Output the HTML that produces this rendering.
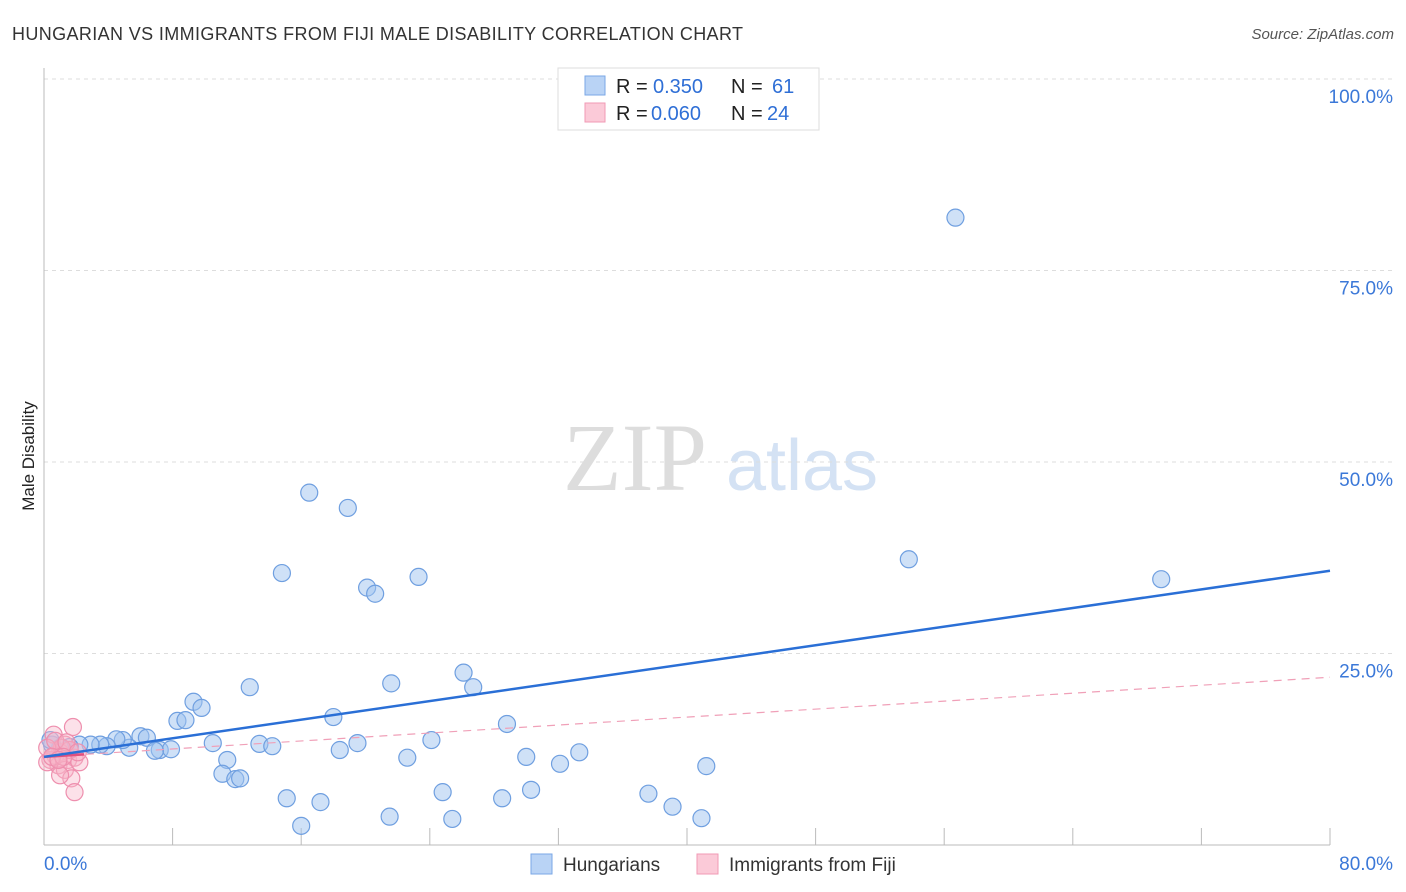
<!DOCTYPE html>
<html><head><meta charset="utf-8"><style>
body{margin:0;background:#fff;font-family:"Liberation Sans",sans-serif}
svg{display:block}
</style></head><body>
<svg width="1406" height="892" id="c">
<text x="12" y="40" font-size="18" fill="#333" textLength="731" lengthAdjust="spacing">HUNGARIAN VS IMMIGRANTS FROM FIJI MALE DISABILITY CORRELATION CHART</text>
<text x="1394" y="39" font-size="15" fill="#555" text-anchor="end" font-style="italic">Source: ZipAtlas.com</text>
<text x="34" y="456" font-size="17" fill="#222" text-anchor="middle" transform="rotate(-90 34 456)">Male Disability</text>
<g><text x="635" y="490" font-size="96" fill="#ddd" font-family="Liberation Serif" text-anchor="middle">ZIP</text><text x="802" y="490" font-size="72" fill="#d4e2f4" text-anchor="middle">atlas</text></g>
<g id="grid"></g><g id="marks"></g>
<g>
<rect x="558" y="68" width="261" height="62" fill="#fff" stroke="#ddd"/>
<rect x="585" y="76" width="20" height="19" fill="#b9d3f5" stroke="#7aa7e6"/>
<rect x="585" y="103" width="20" height="19" fill="#fbcad8" stroke="#f09ab5"/>
<text x="616" y="93" font-size="20" fill="#222">R =</text><text x="653" y="93" font-size="20" fill="#2f6fd6">0.350</text>
<text x="731" y="93" font-size="20" fill="#222">N =</text><text x="772" y="93" font-size="20" fill="#2f6fd6">61</text>
<text x="616" y="120" font-size="20" fill="#222">R =</text><text x="651" y="120" font-size="20" fill="#2f6fd6">0.060</text>
<text x="731" y="120" font-size="20" fill="#222">N =</text><text x="767" y="120" font-size="20" fill="#2f6fd6">24</text>
</g>
<g>
<rect x="531" y="854" width="21" height="20" fill="#b9d3f5" stroke="#7aa7e6"/>
<text x="563" y="871" font-size="19" fill="#333">Hungarians</text>
<rect x="697" y="854" width="21" height="20" fill="#fbcad8" stroke="#f09ab5"/>
<text x="729" y="871" font-size="19" fill="#333">Immigrants from Fiji</text>
</g>
</svg>
<script>
const yTicks=[25,50,75,100];
const yTickLabels=["25.0%","50.0%","75.0%","100.0%"];
const xTicks=[8,16,24,32,40,48,56,64,72,80];
const xEndLabels=["0.0%","80.0%"];
const blueX=[56.7,16.5,18.9,53.8,69.5,14.8,20.1,20.6,23.3,26.1,26.7,21.6,12.8,9.3,9.8,8.3,8.8,18.0,28.8,10.5,13.4,14.2,18.4,19.5,24.1,22.6,30.0,32.1,33.3,41.2,11.4,11.1,11.9,12.2,15.1,17.2,16.0,21.5,24.8,25.4,28.5,30.3,37.6,39.1,40.9,6.0,6.4,7.2,7.9,6.9,5.3,4.9,4.5,3.9,3.5,2.9,2.2,1.6,1.0,0.5,0.4];
const blueY=[81.9,46.0,44.0,37.3,34.7,35.5,33.6,32.8,35.0,22.5,20.6,21.1,20.6,18.7,17.9,16.2,16.3,16.7,15.8,13.3,13.2,12.9,12.4,13.3,13.7,11.4,11.5,10.6,12.1,10.3,11.1,9.3,8.6,8.7,6.1,5.6,2.5,3.7,6.9,3.4,6.1,7.2,6.7,5.0,3.5,14.2,14.0,12.4,12.5,12.3,12.7,13.7,13.8,12.9,13.1,13.1,13.1,12.8,12.7,13.1,13.7];
const pinkX=[1.8,0.6,1.3,1.0,0.7,0.4,0.9,1.5,1.9,1.3,1.7,1.9,1.0,0.2,2.2,1.6,1.1,0.2,0.7,1.4,2.1,0.5,1.2,0.9];
const pinkY=[15.4,14.4,13.1,12.1,11.7,11.1,10.4,11.1,11.4,9.8,8.7,6.9,9.1,10.8,10.8,12.4,12.7,12.7,13.6,13.4,12.1,11.5,11.5,11.1];
const blueTrend=[11.5,35.8];
const pinkTrend=[11.5,21.9];
const NS="http://www.w3.org/2000/svg";
const sx=v=>44+v/80*1286, sy=v=>845-v*7.66;
function mk(p,t,a){const e=document.createElementNS(NS,t);for(const k in a)e.setAttribute(k,a[k]);p.appendChild(e);return e;}
const g=document.getElementById('grid'),m=document.getElementById('marks');
yTicks.forEach((v,i)=>{
 const l=mk(g,'line',{x1:44,x2:1394,y1:sy(v),y2:sy(v),stroke:'#ddd','stroke-dasharray':'4 4'});
 
 
 const t=mk(g,'text',{x:1393,y:sy(v)+24,'font-size':19,fill:'#3b78d8','text-anchor':'end'});t.textContent=yTickLabels[i];
 
 
});
mk(g,'line',{x1:44,x2:44,y1:68,y2:845,stroke:'#bbb'});
mk(g,'line',{x1:44,x2:1330,y1:845,y2:845,stroke:'#bbb'});
xTicks.forEach(v=>{const l=mk(g,'line',{x1:sx(v),x2:sx(v),y1:828,y2:845,stroke:'#bbb'});
 
 });
const t0=mk(g,'text',{x:44,y:870,'font-size':19,fill:'#3b78d8'});t0.textContent=xEndLabels[0];


const t1=mk(g,'text',{x:1393,y:870,'font-size':19,fill:'#3b78d8','text-anchor':'end'});t1.textContent=xEndLabels[1];


blueX.forEach((x,i)=>{const c=mk(m,'circle',{cx:sx(x),cy:sy(blueY[i]),r:8.5,fill:'rgba(160,196,240,0.5)',stroke:'#6f9fe0','stroke-width':1.2});
 
 });
pinkX.forEach((x,i)=>{const c=mk(m,'circle',{cx:sx(x),cy:sy(pinkY[i]),r:8.5,fill:'rgba(248,180,200,0.4)',stroke:'#ee8fae','stroke-width':1.2});
 
 });
const pl=mk(m,'line',{x1:sx(0),x2:sx(80),y1:sy(pinkTrend[0]),y2:sy(pinkTrend[1]),stroke:'#f0a0b8','stroke-width':1.2,'stroke-dasharray':'8 6'});


const ps=mk(m,'line',{x1:sx(0),x2:sx(2.5),y1:sy(pinkTrend[0]),y2:sy(pinkTrend[0]+(pinkTrend[1]-pinkTrend[0])*2.5/80),stroke:'#e0507e','stroke-width':2.5});


const bl=mk(m,'line',{x1:sx(0),x2:sx(80),y1:sy(blueTrend[0]),y2:sy(blueTrend[1]),stroke:'#2a6fd6','stroke-width':2.5});


</script>
</body></html>
